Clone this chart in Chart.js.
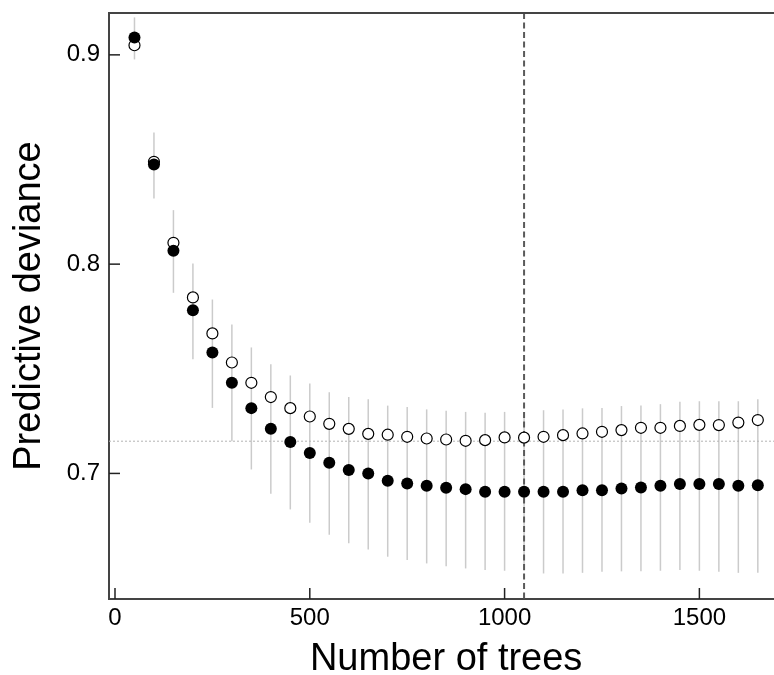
<!DOCTYPE html>
<html>
<head>
<meta charset="utf-8">
<script src="https://cdn.jsdelivr.net/npm/chart.js@4.4.1/dist/chart.umd.min.js"></script>
<style>
  html, body { margin: 0; padding: 0; background: #fff; overflow: hidden; }
  body { width: 774px; height: 675px; }
  #chart { display: block; }
</style>
</head>
<body>
<canvas id="chart" width="790" height="675"></canvas>
<script>
const trees = [
  50, 100, 150, 200, 250, 300, 350, 400, 450, 500, 550,
  600, 650, 700, 750, 800, 850, 900, 950, 1000, 1050, 1100,
  1150, 1200, 1250, 1300, 1350, 1400, 1450, 1500, 1550, 1600, 1650,
];

// filled circles
const solidDeviance = [
  0.9083, 0.8476, 0.8064, 0.7780, 0.7578, 0.7433, 0.7312, 0.7213, 0.7150, 0.7098, 0.7051,
  0.7016, 0.7000, 0.6965, 0.6952, 0.6941, 0.6932, 0.6925, 0.6913, 0.6913, 0.6913, 0.6913,
  0.6913, 0.6920, 0.6920, 0.6928, 0.6933, 0.6941, 0.6949, 0.6949, 0.6949, 0.6941, 0.6944,
];

// open circles
const openDeviance = [
  0.9046, 0.8489, 0.8102, 0.7841, 0.7669, 0.7530, 0.7433, 0.7365, 0.7312, 0.7272, 0.7237,
  0.7213, 0.7189, 0.7185, 0.7175, 0.7167, 0.7162, 0.7156, 0.7159, 0.7172, 0.7171, 0.7175,
  0.7183, 0.7191, 0.7199, 0.7207, 0.7218, 0.7218, 0.7227, 0.7232, 0.7231, 0.7243, 0.7255,
];

// grey vertical bars
const barHigh = [
  0.9179, 0.8629, 0.8258, 0.8003, 0.7831, 0.7712, 0.7602, 0.7522, 0.7468, 0.7430, 0.7388,
  0.7365, 0.7354, 0.7324, 0.7318, 0.7306, 0.7299, 0.7294, 0.7290, 0.7294, 0.7292, 0.7302,
  0.7306, 0.7311, 0.7313, 0.7322, 0.7325, 0.7331, 0.7342, 0.7345, 0.7345, 0.7345, 0.7354,
];
const barLow = [
  0.8978, 0.8314, 0.7863, 0.7545, 0.7313, 0.7154, 0.7019, 0.6903, 0.6828, 0.6764, 0.6707,
  0.6666, 0.6637, 0.6602, 0.6586, 0.6570, 0.6557, 0.6546, 0.6538, 0.6535, 0.6534, 0.6522,
  0.6522, 0.6525, 0.6530, 0.6532, 0.6532, 0.6535, 0.6538, 0.6535, 0.6530, 0.6525, 0.6525,
];

const refDeviance = 0.7154;
const bestTrees = 1050;

const xTickValues = [0, 500, 1000, 1500];
const yTickValues = [0.7, 0.8, 0.9];

Chart.defaults.font.family = "'Liberation Sans', Arial, sans-serif";
Chart.defaults.color = "#000";

const toPoints = (values) => trees.map((t, i) => ({ x: t, y: values[i] }));

// no extra room for edge labels, the plot box is placed by hand
function noEdgePadding(scale) {
  scale.paddingTop = 0;
  scale.paddingBottom = 0;
  scale.paddingLeft = 0;
  scale.paddingRight = 0;
}

const extras = {
  id: "extras",
  beforeDatasetsDraw(chart) {
    const { ctx, chartArea: area, scales: { x, y } } = chart;
    ctx.save();

    ctx.strokeStyle = "#cbcbcb";
    ctx.lineWidth = 1.5;
    trees.forEach((t, i) => {
      const px = x.getPixelForValue(t);
      ctx.beginPath();
      ctx.moveTo(px, y.getPixelForValue(barHigh[i]));
      ctx.lineTo(px, y.getPixelForValue(barLow[i]));
      ctx.stroke();
    });

    ctx.setLineDash([2, 2]);
    ctx.strokeStyle = "#b4b4b4";
    ctx.lineWidth = 1;
    const hy = y.getPixelForValue(refDeviance);
    ctx.beginPath();
    ctx.moveTo(area.left, hy);
    ctx.lineTo(area.right, hy);
    ctx.stroke();

    ctx.setLineDash([6, 3.5]);
    ctx.strokeStyle = "#5a5a5a";
    ctx.lineWidth = 2;
    const vx = x.getPixelForValue(bestTrees);
    ctx.beginPath();
    ctx.moveTo(vx, area.top);
    ctx.lineTo(vx, area.bottom);
    ctx.stroke();

    ctx.restore();
  },
  afterDraw(chart) {
    const { ctx, chartArea: area, scales: { x, y } } = chart;
    ctx.save();
    ctx.strokeStyle = "#444";
    ctx.lineWidth = 2;
    ctx.beginPath();
    ctx.moveTo(area.left - 1, area.top);
    ctx.lineTo(area.right, area.top);
    ctx.stroke();

    // inward tick marks
    ctx.lineWidth = 1.5;
    ctx.strokeStyle = "#222";
    xTickValues.forEach((v) => {
      const px = x.getPixelForValue(v);
      ctx.beginPath();
      ctx.moveTo(px, area.bottom);
      ctx.lineTo(px, area.bottom - 11);
      ctx.stroke();
    });
    yTickValues.forEach((v) => {
      const py = y.getPixelForValue(v);
      ctx.beginPath();
      ctx.moveTo(area.left, py);
      ctx.lineTo(area.left + 11, py);
      ctx.stroke();
    });
    ctx.restore();
  },
};

new Chart("chart", {
  type: "scatter",
  data: {
    datasets: [
      {
        data: toPoints(solidDeviance),
        pointRadius: 6,
        pointBackgroundColor: "#000",
        pointBorderColor: "#000",
        pointBorderWidth: 0,
        order: 1,
      },
      {
        data: toPoints(openDeviance),
        pointRadius: 5.5,
        pointBackgroundColor: "#fff",
        pointBorderColor: "#000",
        pointBorderWidth: 1.2,
        order: 2,
      },
    ],
  },
  options: {
    responsive: false,
    animation: false,
    events: [],
    layout: { padding: { top: 13, left: 0, right: 0, bottom: 0 } },
    plugins: { legend: { display: false }, tooltip: { enabled: false } },
    scales: {
      x: {
        type: "linear",
        min: -15.4,
        max: 1715.4,
        afterBuildTicks: (scale) => {
          scale.ticks = xTickValues.map((value) => ({ value }));
        },
        afterFit: (scale) => {
          scale.height = 76;
          noEdgePadding(scale);
        },
        ticks: { font: { size: 24 }, padding: 5, callback: (v) => String(v) },
        grid: { display: false, drawTicks: false },
        border: { display: true, color: "#444", width: 2 },
        title: {
          display: true,
          text: "Number of trees",
          font: { size: 38, lineHeight: 0.8 },
          padding: { top: 0, bottom: 0 },
        },
      },
      y: {
        type: "linear",
        min: 0.64,
        max: 0.92,
        afterBuildTicks: (scale) => {
          scale.ticks = yTickValues.map((value) => ({ value }));
        },
        afterFit: (scale) => {
          scale.width = 109;
          noEdgePadding(scale);
        },
        ticks: { font: { size: 24 }, padding: 9, callback: (v) => v.toFixed(1) },
        grid: { display: false, drawTicks: false },
        border: { display: true, color: "#444", width: 2 },
        title: {
          display: true,
          text: "Predictive deviance",
          font: { size: 38, lineHeight: 0.8 },
          padding: { top: 14, bottom: 0 },
        },
      },
    },
  },
  plugins: [extras],
});
</script>
</body>
</html>
